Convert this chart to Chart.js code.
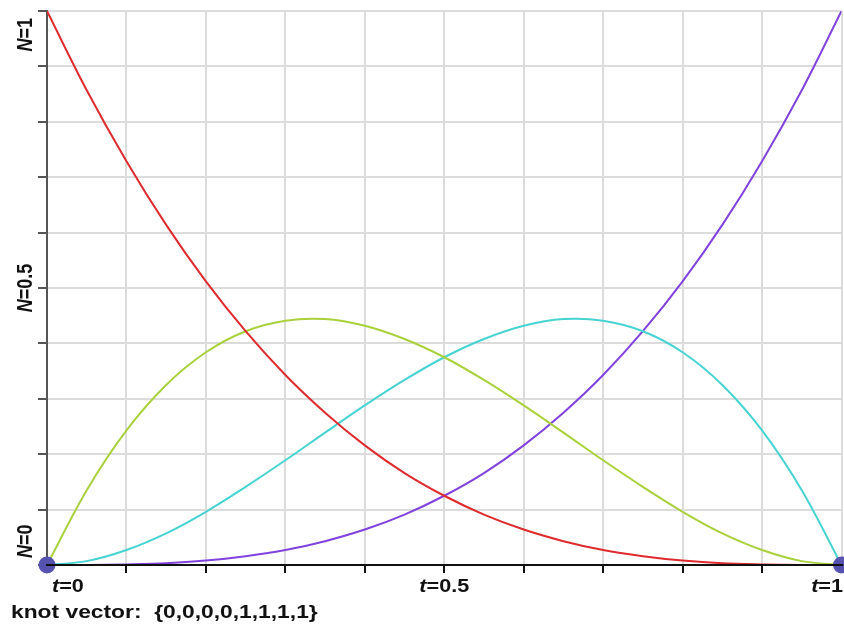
<!DOCTYPE html>
<html lang="en">
<head>
    <meta charset="UTF-8">
    <title>Cubic B-spline basis</title>
    <script src="https://cdn.jsdelivr.net/npm/chart.js"></script>
    <style>
        html, body { margin: 0; padding: 0; background: #fff; overflow: hidden; }
        #wrap { width: 850px; height: 626px; }
    </style>
</head>
<body>
    <div id="wrap"><canvas id="basisChart" width="850" height="626"></canvas></div>
    <script>
// parameter values along the curve (every 0.05)
const tValues = [0, 0.05, 0.1, 0.15, 0.2, 0.25, 0.3, 0.35, 0.4, 0.45, 0.5,
                 0.55, 0.6, 0.65, 0.7, 0.75, 0.8, 0.85, 0.9, 0.95, 1];

// basis function values N(t)
const redN    = [1, 0.857, 0.729, 0.614, 0.512, 0.422, 0.343, 0.275, 0.216, 0.166, 0.125,
                 0.091, 0.064, 0.043, 0.027, 0.016, 0.008, 0.003, 0.001, 0.0001, 0];
const greenN  = [0, 0.135, 0.243, 0.325, 0.384, 0.422, 0.441, 0.444, 0.432, 0.408, 0.375,
                 0.334, 0.288, 0.239, 0.189, 0.141, 0.096, 0.057, 0.027, 0.007, 0];
const cyanN   = [0, 0.007, 0.027, 0.057, 0.096, 0.141, 0.189, 0.239, 0.288, 0.334, 0.375,
                 0.408, 0.432, 0.444, 0.441, 0.422, 0.384, 0.325, 0.243, 0.135, 0];
const purpleN = [0, 0.0001, 0.001, 0.003, 0.008, 0.016, 0.027, 0.043, 0.064, 0.091, 0.125,
                 0.166, 0.216, 0.275, 0.343, 0.422, 0.512, 0.614, 0.729, 0.857, 1];

// end points of the curve (knots at t=0 and t=1)
const knotT = [0, 1];
const knotN = [0, 0];

// axis labels
const yLabels = ['N=0', 'N=0.5', 'N=1'];
const yLabelValues = [0, 0.5, 1];
const xLabels = ['t=0', 't=0.5', 't=1'];
const xLabelValues = [0, 0.5, 1];
const knotVectorText = 'knot vector:  {0,0,0,0,1,1,1,1}';

const toPoints = (xs, ys) => xs.map((x, i) => ({ x: x, y: ys[i] }));

function curve(data, color) {
    return {
        data: toPoints(tValues, data),
        borderColor: color,
        borderWidth: 2,
        pointRadius: 0,
        fill: false,
        tension: 0.35
    };
}

const FONT = 'bold 18px "Liberation Sans", Arial, sans-serif';
const FONT_I = 'italic bold 18px "Liberation Sans", Arial, sans-serif';
const STRETCH = 1.2; // the reference text is a bit wide

// draws "N=..." / "t=..." with the first letter in italic
function labelWidth(ctx, txt) {
    ctx.font = FONT_I;
    let w = ctx.measureText(txt[0]).width;
    ctx.font = FONT;
    return w + ctx.measureText(txt.slice(1)).width;
}
function drawLabel(ctx, txt, x, y) {
    ctx.font = FONT_I;
    ctx.fillText(txt[0], x, y);
    const w = ctx.measureText(txt[0]).width;
    ctx.font = FONT;
    ctx.fillText(txt.slice(1), x + w, y);
}

const labelPlugin = {
    id: 'labels',
    afterDraw(chart) {
        const ctx = chart.ctx;
        const xs = chart.scales.x, ys = chart.scales.y;
        ctx.save();
        ctx.fillStyle = '#111';
        ctx.textBaseline = 'alphabetic';
        ctx.textAlign = 'left';

        // y labels, rotated, kept inside the axis span
        yLabels.forEach((txt, i) => {
            const w = labelWidth(ctx, txt);
            let y = ys.getPixelForValue(yLabelValues[i]);
            let start; // bottom end of the rotated text
            if (i === 0) start = y - 7;
            else if (i === yLabels.length - 1) start = y + 7 + w;
            else start = y + w / 2;
            ctx.save();
            ctx.translate(32, start);
            ctx.rotate(-Math.PI / 2);
            ctx.scale(1, STRETCH);
            drawLabel(ctx, txt, 0, 0);
            ctx.restore();
        });

        // x labels
        xLabels.forEach((txt, i) => {
            const w = labelWidth(ctx, txt) * STRETCH;
            const x = xs.getPixelForValue(xLabelValues[i]);
            let left;
            if (i === 0) left = x + 5;
            else if (i === xLabels.length - 1) left = 843 - w;
            else left = x - w / 2;
            ctx.save();
            ctx.translate(left, 592);
            ctx.scale(STRETCH, 1);
            drawLabel(ctx, txt, 0, 0);
            ctx.restore();
        });

        // knot vector caption
        ctx.save();
        ctx.translate(11, 618);
        ctx.scale(STRETCH, 1);
        ctx.font = 'bold 19px "Liberation Sans", Arial, sans-serif';
        ctx.fillText(knotVectorText, 0, 0);
        ctx.restore();
        ctx.restore();
    }
};

const ctx = document.getElementById('basisChart').getContext('2d');
const basisChart = new Chart(ctx, {
    type: 'line',
    data: {
        datasets: [
            curve(redN, '#df2a2e'),
            curve(greenN, '#a9d13c'),
            curve(cyanN, '#48d3d3'),
            curve(purpleN, '#8142de'),
            {
                data: toPoints(knotT, knotN),
                showLine: false,
                order: -1,
                pointRadius: 8.5,
                pointHoverRadius: 8.5,
                pointBackgroundColor: '#5552b0',
                pointBorderColor: '#5552b0',
                pointBorderWidth: 0,
                clip: false
            }
        ]
    },
    options: {
        responsive: false,
        animation: false,
        events: [],
        layout: { padding: { top: 11, right: 1, left: 0, bottom: 0 } },
        plugins: {
            legend: { display: false },
            tooltip: { enabled: false }
        },
        scales: {
            x: {
                type: 'linear',
                min: 0,
                max: 1,
                ticks: { display: false, stepSize: 0.1 },
                grid: { color: '#dcdcdc', lineWidth: 2, tickLength: 8, tickColor: '#111', tickWidth: 2 },
                border: { color: '#111', width: 2, z: 1 },
                afterFit(scale) { scale.height = 61; }
            },
            y: {
                min: 0,
                max: 1,
                ticks: { display: false, stepSize: 0.1 },
                grid: { color: '#dcdcdc', lineWidth: 2, tickLength: 9, tickColor: '#555', tickWidth: 2 },
                border: { color: '#555', width: 2 },
                afterFit(scale) { scale.width = 47; }
            }
        }
    },
    plugins: [labelPlugin]
});
    </script>
</body>
</html>
